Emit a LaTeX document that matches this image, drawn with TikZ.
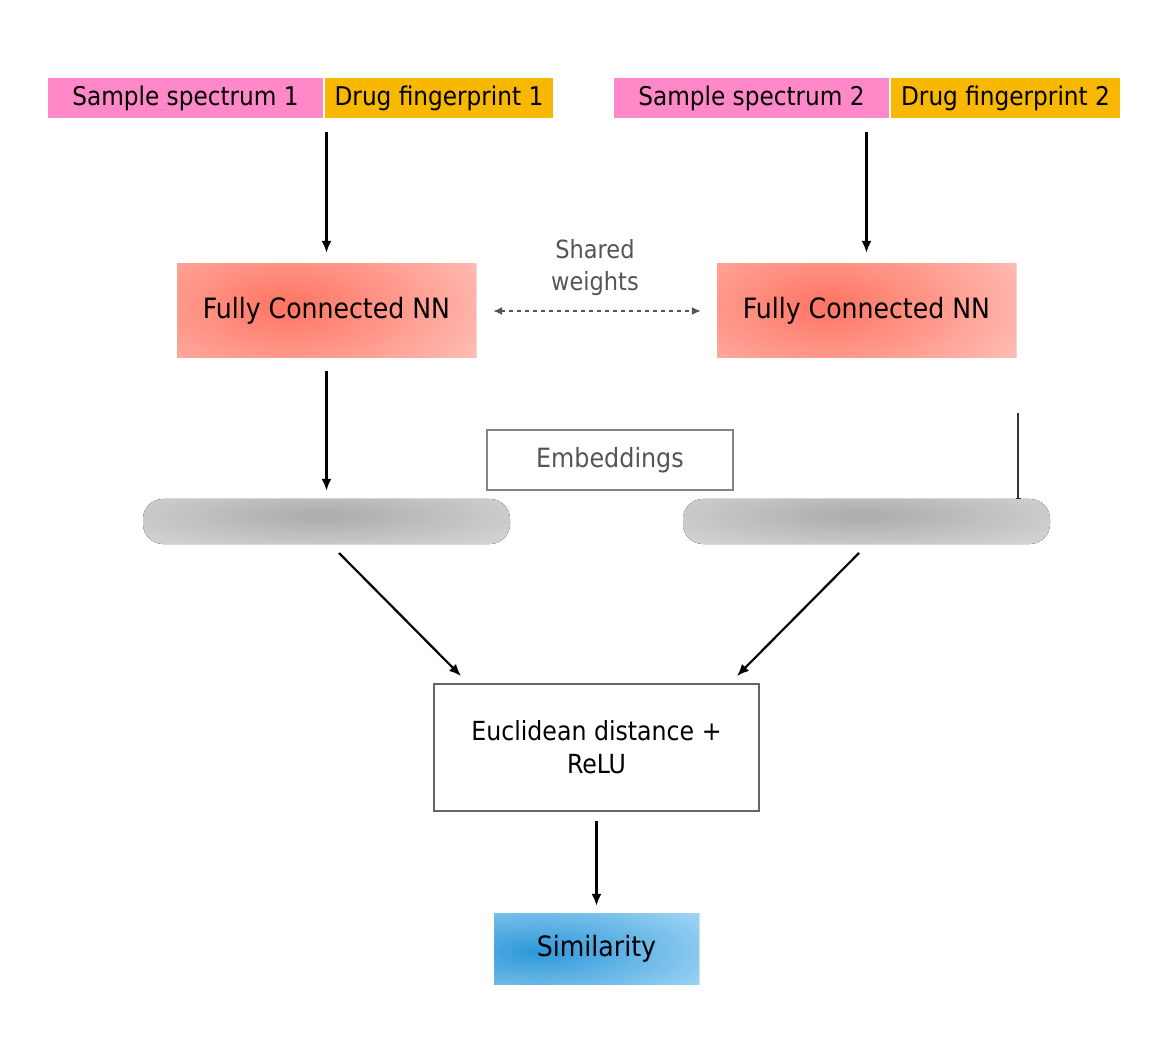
\documentclass[tikz,border=0pt]{standalone}
\usepackage{fontspec}
\setmainfont{DejaVu Sans Condensed}
\usetikzlibrary{arrows.meta,calc}
\definecolor{pinkc}{HTML}{FF88C8}
\definecolor{orangec}{HTML}{F8B800}
\definecolor{fcdark}{HTML}{FF7462}
\definecolor{fclight}{HTML}{FFD8D2}
\definecolor{embdark}{HTML}{ABABAB}
\definecolor{emblight}{HTML}{E4E4E4}
\definecolor{simdark}{HTML}{2F98DA}
\definecolor{simlight}{HTML}{B4E0F8}
\definecolor{txtgray}{HTML}{555555}
\definecolor{boxgray}{HTML}{666666}
\tikzset{
  txt/.style={font=\fontsize{28}{33}\selectfont, text=black, inner sep=0pt, align=center},
  inbox/.style={txt, font=\fontsize{25.8}{30}\selectfont, minimum height=40pt},
  fcbox/.style={txt, minimum width=299pt, minimum height=94pt,
    path picture={\fill[fclight] (path picture bounding box.south west) rectangle (path picture bounding box.north east);
      \fill[inner color=fcdark, outer color=fclight]
      ([xshift=-40pt,yshift=6pt]path picture bounding box.center) ellipse (300pt and 140pt);}},
  embbox/.style={minimum width=367pt, minimum height=45pt, rounded corners=20pt, inner sep=0pt,
    path picture={\fill[emblight] (path picture bounding box.south west) rectangle (path picture bounding box.north east);
      \fill[inner color=embdark, outer color=emblight]
      ([xshift=-5pt,yshift=6pt]path picture bounding box.center) ellipse (330pt and 55pt);}},
  simbox/.style={txt, minimum width=205pt, minimum height=71pt,
    path picture={\fill[simlight] (path picture bounding box.south west) rectangle (path picture bounding box.north east);
      \fill[inner color=simdark, outer color=simlight]
      ([xshift=-60pt,yshift=-3pt]path picture bounding box.center) ellipse (240pt and 75pt);}},
  arr/.style={line width=2.2pt, -{Latex[length=12pt,width=10pt]}},
}
\begin{document}
\begin{tikzpicture}[x=1pt,y=-1pt]
\useasboundingbox (0,0) rectangle (1168,1048);
\fill[white] (0,0) rectangle (1168,1048);

% inputs
\node[inbox, fill=pinkc, minimum width=275pt] (ss1) at (185.5,98) {Sample spectrum 1};
\node[inbox, fill=orangec, minimum width=228pt] (df1) at (439,98) {Drug fingerprint 1};
\node[inbox, fill=pinkc, minimum width=275pt] (ss2) at (751.5,98) {Sample spectrum 2};
\node[inbox, fill=orangec, minimum width=229pt] (df2) at (1005.5,98) {Drug fingerprint 2};

% FC NN
\node[fcbox] (fc1) at (326.5,311) {Fully Connected NN};
\node[fcbox] (fc2) at (866.5,311) {Fully Connected NN};

\draw[arr, shorten <=14pt, shorten >=11pt] (fc1.north |- ss1.south) -- (fc1.north);
\draw[arr, shorten <=14pt, shorten >=11pt] (fc2.north |- ss2.south) -- (fc2.north);

% shared weights
\node[font=\fontsize{25}{32}\selectfont, text=txtgray, align=center] (sw) at (595,268) {Shared\\weights};
\draw[txtgray, line width=1.6pt, dash pattern=on 4pt off 4pt,
  {Latex[length=9pt,width=8pt]}-{Latex[length=9pt,width=8pt]}, shorten <=17pt, shorten >=16pt]
  (fc1.east) -- (fc2.west);

% embeddings
\node[embbox] (e1) at (326.5,521.5) {};
\node[embbox] (e2) at (866.5,521.5) {};
\node[draw=boxgray!80, line width=1.6pt, minimum width=246pt, minimum height=60pt,
  font=\fontsize{26.5}{31}\selectfont, text=txtgray] (emb) at (610,460) {Embeddings};

\draw[arr, shorten <=13pt, shorten >=8pt] (fc1.south) -- (e1.north);
\coordinate (tl) at (1018,413);
\coordinate (tb) at (1018,499);
\draw[line width=1.2pt, draw=black!80, -{Bar[width=5pt,line width=1pt]}] (tl) -- (tb);

% euclidean
\node[txt, font=\fontsize{26.3}{33}\selectfont, draw=boxgray, line width=2pt, minimum width=325pt, minimum height=127pt] (eu) at (596.5,747.5)
  {Euclidean distance +\\ReLU};

\coordinate (a1s) at (339,553);
\coordinate (a1e) at (461,676);
\coordinate (a2s) at (859,553);
\coordinate (a2e) at (737,676);
\draw[arr] (a1s) -- (a1e);
\draw[arr] (a2s) -- (a2e);

% similarity
\node[simbox] (sim) at (596.5,948.5) {Similarity};
\draw[arr, shorten <=9pt, shorten >=7pt] (eu.south) -- (sim.north);
\end{tikzpicture}
\end{document}
